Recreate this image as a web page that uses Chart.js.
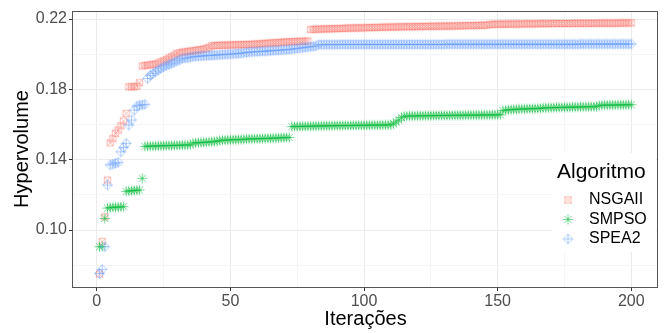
<!DOCTYPE html>
<html lang="pt">
<head>
<meta charset="UTF-8" />
<title>Hypervolume por iteração</title>
<script src="https://cdn.jsdelivr.net/npm/chart.js"></script>
<style>
  body { margin: 0; background: #fff; }
  #wrap { width: 665px; height: 333px; }
</style>
</head>
<body>
<div id="wrap"><canvas id="hvChart" width="665" height="333"></canvas></div>
<script>
  // iteration index 1..200 (x categories)
  const iterations = Array.from({ length: 200 }, (_, i) => i + 1);

  const algorithms = ['NSGAII', 'SMPSO', 'SPEA2'];
  const xTicks = [0, 25, 50, 75, 100, 125, 150, 175, 200];
  const yTicks = [0.08, 0.10, 0.12, 0.14, 0.16, 0.18, 0.20, 0.22];

  const nsgaii = [
    0.0750, 0.0935, 0.1075, 0.1284, 0.1496, 0.1520, 0.1550, 0.1569, 0.1593, 0.1620,
    0.1664, 0.1815, 0.1815, 0.1815, 0.1818, 0.1838, 0.1933, 0.1936, 0.1938, 0.1940,
    0.1942, 0.1944, 0.1950, 0.1957, 0.1963, 0.1970, 0.1978, 0.1986, 0.1995, 0.2005,
    0.2008, 0.2012, 0.2014, 0.2016, 0.2018, 0.2020, 0.2022, 0.2025, 0.2027, 0.2030,
    0.2033, 0.2040, 0.2048, 0.2050, 0.2050, 0.2051, 0.2051, 0.2052, 0.2052, 0.2053,
    0.2053, 0.2054, 0.2054, 0.2055, 0.2055, 0.2056, 0.2056, 0.2057, 0.2057, 0.2058,
    0.2060, 0.2061, 0.2062, 0.2063, 0.2064, 0.2065, 0.2066, 0.2067, 0.2068, 0.2069,
    0.2070, 0.2071, 0.2072, 0.2072, 0.2073, 0.2073, 0.2074, 0.2074, 0.2075, 0.2140,
    0.2142, 0.2142, 0.2143, 0.2143, 0.2144, 0.2144, 0.2145, 0.2145, 0.2146, 0.2146,
    0.2147, 0.2147, 0.2148, 0.2148, 0.2149, 0.2149, 0.2150, 0.2150, 0.2150, 0.2151,
    0.2151, 0.2152, 0.2152, 0.2152, 0.2153, 0.2153, 0.2154, 0.2154, 0.2154, 0.2155,
    0.2155, 0.2155, 0.2156, 0.2156, 0.2156, 0.2157, 0.2157, 0.2157, 0.2157, 0.2158,
    0.2158, 0.2158, 0.2158, 0.2159, 0.2159, 0.2159, 0.2159, 0.2160, 0.2160, 0.2160,
    0.2160, 0.2161, 0.2161, 0.2161, 0.2162, 0.2162, 0.2162, 0.2163, 0.2163, 0.2163,
    0.2164, 0.2164, 0.2164, 0.2165, 0.2165, 0.2165, 0.2170, 0.2170, 0.2170, 0.2171,
    0.2171, 0.2171, 0.2171, 0.2172, 0.2172, 0.2172, 0.2172, 0.2172, 0.2173, 0.2173,
    0.2173, 0.2173, 0.2173, 0.2173, 0.2174, 0.2174, 0.2174, 0.2174, 0.2174, 0.2174,
    0.2175, 0.2175, 0.2175, 0.2175, 0.2175, 0.2175, 0.2175, 0.2175, 0.2176, 0.2176,
    0.2176, 0.2176, 0.2176, 0.2176, 0.2176, 0.2176, 0.2177, 0.2177, 0.2177, 0.2177,
    0.2177, 0.2177, 0.2177, 0.2177, 0.2177, 0.2178, 0.2178, 0.2178, 0.2178, 0.2178
  ];

  const smpso = [
    0.0905, 0.0905, 0.1066, 0.1125, 0.1128, 0.1130, 0.1130, 0.1131, 0.1132, 0.1133,
    0.1220, 0.1222, 0.1224, 0.1225, 0.1227, 0.1228, 0.1294, 0.1476, 0.1477, 0.1477,
    0.1478, 0.1478, 0.1479, 0.1479, 0.1480, 0.1480, 0.1481, 0.1481, 0.1482, 0.1482,
    0.1483, 0.1483, 0.1484, 0.1484, 0.1485, 0.1495, 0.1496, 0.1497, 0.1498, 0.1499,
    0.1500, 0.1501, 0.1502, 0.1503, 0.1505, 0.1510, 0.1511, 0.1512, 0.1512, 0.1513,
    0.1514, 0.1514, 0.1515, 0.1515, 0.1516, 0.1518, 0.1518, 0.1519, 0.1519, 0.1520,
    0.1520, 0.1521, 0.1521, 0.1522, 0.1522, 0.1523, 0.1523, 0.1524, 0.1525, 0.1526,
    0.1526, 0.1527, 0.1588, 0.1589, 0.1589, 0.1590, 0.1590, 0.1590, 0.1591, 0.1591,
    0.1591, 0.1592, 0.1592, 0.1592, 0.1593, 0.1593, 0.1593, 0.1593, 0.1594, 0.1594,
    0.1594, 0.1594, 0.1595, 0.1595, 0.1595, 0.1595, 0.1596, 0.1596, 0.1596, 0.1596,
    0.1596, 0.1597, 0.1597, 0.1597, 0.1597, 0.1597, 0.1598, 0.1598, 0.1598, 0.1598,
    0.1605, 0.1615, 0.1625, 0.1640, 0.1648, 0.1648, 0.1649, 0.1649, 0.1649, 0.1650,
    0.1650, 0.1650, 0.1650, 0.1651, 0.1651, 0.1651, 0.1651, 0.1652, 0.1652, 0.1652,
    0.1652, 0.1652, 0.1653, 0.1653, 0.1653, 0.1653, 0.1653, 0.1654, 0.1654, 0.1654,
    0.1654, 0.1654, 0.1654, 0.1655, 0.1655, 0.1655, 0.1655, 0.1655, 0.1655, 0.1656,
    0.1656, 0.1680, 0.1682, 0.1684, 0.1685, 0.1686, 0.1687, 0.1688, 0.1689, 0.1689,
    0.1690, 0.1690, 0.1691, 0.1691, 0.1692, 0.1692, 0.1695, 0.1695, 0.1696, 0.1696,
    0.1697, 0.1697, 0.1698, 0.1698, 0.1698, 0.1699, 0.1699, 0.1699, 0.1700, 0.1700,
    0.1700, 0.1701, 0.1701, 0.1701, 0.1702, 0.1702, 0.1702, 0.1710, 0.1710, 0.1711,
    0.1711, 0.1711, 0.1711, 0.1712, 0.1712, 0.1712, 0.1712, 0.1713, 0.1713, 0.1713
  ];

  const spea2 = [
    0.0753, 0.0776, 0.0905, 0.1256, 0.1370, 0.1375, 0.1380, 0.1385, 0.1445, 0.1470,
    0.1493, 0.1597, 0.1626, 0.1682, 0.1705, 0.1710, 0.1712, 0.1715, 0.1862, 0.1880,
    0.1891, 0.1900, 0.1910, 0.1920, 0.1928, 0.1935, 0.1942, 0.1948, 0.1955, 0.1962,
    0.1968, 0.1975, 0.1978, 0.1980, 0.1983, 0.1986, 0.1988, 0.1989, 0.1990, 0.1991,
    0.1992, 0.1993, 0.1994, 0.1995, 0.1996, 0.1997, 0.1998, 0.1999, 0.2000, 0.2001,
    0.2002, 0.2003, 0.2005, 0.2006, 0.2008, 0.2010, 0.2012, 0.2013, 0.2014, 0.2015,
    0.2016, 0.2017, 0.2018, 0.2019, 0.2020, 0.2021, 0.2022, 0.2023, 0.2024, 0.2025,
    0.2026, 0.2027, 0.2029, 0.2031, 0.2033, 0.2035, 0.2037, 0.2039, 0.2041, 0.2043,
    0.2045, 0.2047, 0.2055, 0.2055, 0.2055, 0.2055, 0.2055, 0.2055, 0.2055, 0.2055,
    0.2056, 0.2056, 0.2056, 0.2056, 0.2056, 0.2056, 0.2056, 0.2056, 0.2056, 0.2056,
    0.2056, 0.2056, 0.2056, 0.2056, 0.2056, 0.2056, 0.2056, 0.2056, 0.2056, 0.2056,
    0.2056, 0.2056, 0.2056, 0.2056, 0.2056, 0.2056, 0.2056, 0.2056, 0.2056, 0.2056,
    0.2056, 0.2056, 0.2056, 0.2056, 0.2056, 0.2056, 0.2056, 0.2056, 0.2056, 0.2056,
    0.2057, 0.2057, 0.2057, 0.2057, 0.2057, 0.2057, 0.2057, 0.2057, 0.2057, 0.2057,
    0.2057, 0.2057, 0.2057, 0.2057, 0.2057, 0.2057, 0.2057, 0.2057, 0.2057, 0.2057,
    0.2057, 0.2057, 0.2057, 0.2057, 0.2057, 0.2057, 0.2057, 0.2057, 0.2057, 0.2057,
    0.2057, 0.2057, 0.2057, 0.2057, 0.2057, 0.2057, 0.2057, 0.2057, 0.2057, 0.2057,
    0.2057, 0.2057, 0.2057, 0.2057, 0.2057, 0.2057, 0.2057, 0.2057, 0.2057, 0.2057,
    0.2058, 0.2058, 0.2058, 0.2058, 0.2058, 0.2058, 0.2058, 0.2058, 0.2058, 0.2058,
    0.2058, 0.2058, 0.2058, 0.2058, 0.2058, 0.2058, 0.2058, 0.2058, 0.2058, 0.2058
  ];

  const colors = ['rgba(248,118,109,0.55)', 'rgba(0,186,56,0.6)', 'rgba(97,156,255,0.55)'];
  const FONT = "'Liberation Sans', Arial, sans-serif";

  // ggplot-like hollow markers: square with X, asterisk, diamond with +
  function makeMarker(kind, color) {
    const c = document.createElement('canvas');
    c.width = 13; c.height = 13;
    const g = c.getContext('2d');
    const m = 6.5;
    g.strokeStyle = color;
    g.lineWidth = 0.9;
    g.beginPath();
    if (kind === 'squareCross') {
      const h = 3.2;
      g.rect(m - h, m - h, 2 * h, 2 * h);
      g.moveTo(m - h, m - h); g.lineTo(m + h, m + h);
      g.moveTo(m + h, m - h); g.lineTo(m - h, m + h);
    } else if (kind === 'asterisk') {
      const r = 5, d = 3.6;
      g.moveTo(m - r, m); g.lineTo(m + r, m);
      g.moveTo(m, m - r); g.lineTo(m, m + r);
      g.moveTo(m - d, m - d); g.lineTo(m + d, m + d);
      g.moveTo(m + d, m - d); g.lineTo(m - d, m + d);
    } else {
      const r = 4.8;
      g.moveTo(m, m - r); g.lineTo(m + r, m); g.lineTo(m, m + r); g.lineTo(m - r, m); g.closePath();
      g.moveTo(m - r, m); g.lineTo(m + r, m);
      g.moveTo(m, m - r); g.lineTo(m, m + r);
    }
    g.stroke();
    return c;
  }

  const markers = [
    makeMarker('squareCross', colors[0]),
    makeMarker('asterisk', colors[1]),
    makeMarker('diamondPlus', colors[2])
  ];

  const seriesData = [nsgaii, smpso, spea2];

  const isMajorY = v => Math.round(v * 100) % 4 === 2;
  const isMajorX = v => Math.round(v) % 50 === 0;

  const panelBorder = {
    id: 'panelBorder',
    afterDatasetsDraw(chart) {
      const { ctx, chartArea: a } = chart;
      ctx.save();
      ctx.strokeStyle = '#555';
      ctx.lineWidth = 1;
      ctx.strokeRect(Math.round(a.left) - 0.5, Math.round(a.top) + 0.5,
        Math.round(a.right - a.left), Math.round(a.bottom - a.top));
      ctx.restore();
    }
  };

  const ggLegend = {
    id: 'ggLegend',
    afterDraw(chart) {
      const ctx = chart.ctx;
      ctx.save();
      ctx.fillStyle = '#fff';
      ctx.fillRect(552, 153, 104, 99);
      ctx.fillStyle = '#000';
      ctx.textBaseline = 'middle';
      ctx.textAlign = 'left';
      ctx.font = '21px ' + FONT;
      ctx.fillText('Algoritmo', 557, 172);
      ctx.font = '16px ' + FONT;
      algorithms.forEach((name, i) => {
        const y = 200 + i * 19.5;
        const img = markers[i];
        ctx.drawImage(img, 568 - img.width / 2, y - img.height / 2);
        ctx.fillText(name, 589, y);
      });
      ctx.restore();
    }
  };

  const datasets = algorithms.map((name, i) => ({
    label: name,
    data: iterations.map((x, k) => ({ x, y: seriesData[i][k] })),
    pointStyle: markers[i],
    pointRadius: 6,
    showLine: false,
    order: 2 - i
  }));

  new Chart(document.getElementById('hvChart'), {
    type: 'scatter',
    data: { datasets },
    plugins: [panelBorder, ggLegend],
    options: {
      responsive: false,
      animation: false,
      layout: { padding: { top: 11, right: 1, left: 0, bottom: 0 } },
      plugins: { legend: { display: false }, tooltip: { enabled: false } },
      scales: {
        x: {
          type: 'linear',
          min: -8.9,
          max: 210,
          afterBuildTicks: s => { s.ticks = xTicks.map(v => ({ value: v })); },
          afterFit: s => { s.height = 46; s.paddingLeft = 0; s.paddingRight = 0; },
          ticks: {
            autoSkip: false,
            maxRotation: 0,
            padding: 1,
            color: '#4d4d4d',
            font: { family: FONT, size: 16 },
            callback: v => (isMajorX(v) ? String(v) : '')
          },
          grid: {
            color: c => (isMajorX(c.tick.value) ? '#ebebeb' : '#f5f5f5'),
            tickColor: c => (isMajorX(c.tick.value) ? '#333' : 'rgba(0,0,0,0)'),
            tickLength: 4
          },
          border: { display: false },
          title: {
            display: true,
            text: 'Iterações',
            color: '#000',
            font: { family: FONT, size: 20 },
            padding: { top: 0, bottom: 2 }
          }
        },
        y: {
          type: 'linear',
          min: 0.0676,
          max: 0.2246,
          afterBuildTicks: s => { s.ticks = yTicks.map(v => ({ value: v })); },
          afterFit: s => { s.width = 73; s.paddingTop = 0; s.paddingBottom = 0; },
          ticks: {
            padding: 2,
            color: '#4d4d4d',
            font: { family: FONT, size: 16 },
            callback: v => (isMajorY(v) ? v.toFixed(2) : '')
          },
          grid: {
            color: c => (isMajorY(c.tick.value) ? '#ebebeb' : '#f5f5f5'),
            tickColor: c => (isMajorY(c.tick.value) ? '#333' : 'rgba(0,0,0,0)'),
            tickLength: 4
          },
          border: { display: false },
          title: {
            display: true,
            text: 'Hypervolume',
            color: '#000',
            font: { family: FONT, size: 20 },
            padding: { top: 10, bottom: 0 }
          }
        }
      }
    }
  });
</script>
</body>
</html>
